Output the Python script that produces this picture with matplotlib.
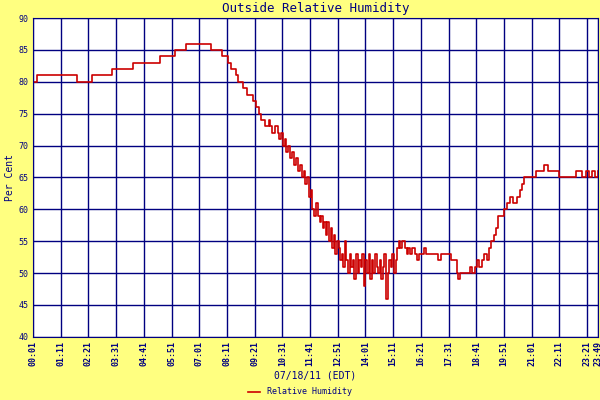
import matplotlib
matplotlib.use("Agg")
import matplotlib.pyplot as plt

# minutes after 00:01 and relative humidity (%)
minutes = [0, 10, 111, 149, 200, 253, 321, 358, 387, 450, 478, 485, 493, 500, 505, 512, 518, 523, 530, 540, 548,
           556, 563, 570, 575, 580, 587, 595, 600, 605, 611, 618, 622, 626, 632, 636, 640, 644, 650, 655, 660,
           665, 670, 675, 680, 684, 688, 692, 697, 702, 706, 710, 715, 720, 724, 728, 732, 736, 740, 744, 748,
           752, 756, 760, 764, 768, 772, 776, 780, 784, 788, 792, 796, 800, 804, 808, 812, 816, 820, 824, 828,
           832, 836, 840, 844, 848, 852, 856, 860, 864, 868, 872, 876, 880, 884, 888, 892, 896, 900, 904, 908,
           912, 916, 920, 924, 928, 932, 936, 940, 944, 948, 952, 958, 964, 970, 976, 982, 988, 994, 1000,
           1008, 1016, 1024, 1032, 1040, 1048, 1056, 1064, 1070, 1074, 1080, 1088, 1096, 1104, 1110, 1116, 1122,
           1128, 1134, 1140, 1146, 1152, 1158, 1164, 1170, 1176, 1182, 1190, 1198, 1206, 1214, 1222, 1230, 1236,
           1241, 1255, 1262, 1270, 1280, 1290, 1300, 1310, 1330, 1350, 1358, 1366, 1372, 1380, 1388, 1396, 1404,
           1412, 1420, 1428]
humidity = [80, 81, 80, 81, 82, 83, 84, 85, 86, 85, 84, 84, 83, 82, 82, 81, 80, 80, 79, 78, 78,
            77, 76, 75, 74, 74, 73, 74, 73, 72, 73, 72, 71, 72, 70, 71, 69, 70, 68, 69, 67,
            68, 66, 67, 65, 66, 64, 65, 62, 63, 60, 59, 61, 59, 58, 59, 57, 58, 56, 58, 55,
            57, 54, 56, 53, 55, 54, 52, 53, 51, 55, 52, 50, 53, 51, 52, 49, 53, 50, 52, 51,
            53, 48, 52, 50, 53, 49, 52, 50, 53, 51, 50, 52, 49, 51, 53, 46, 50, 52, 51, 53,
            50, 52, 54, 55, 54, 55, 55, 54, 53, 54, 53, 54, 53, 52, 53, 53, 54, 53, 53,
            53, 53, 52, 53, 53, 53, 52, 52, 50, 49, 50, 50, 50, 51, 50, 51, 52, 51, 52,
            53, 52, 54, 55, 56, 57, 59, 59, 60, 61, 62, 61, 62, 63, 64, 65, 65,
            65, 66, 66, 67, 66, 66, 65, 65, 65, 65, 66, 66, 65, 66, 65, 66, 65,
            66]

tick_labels = ["00:01", "01:11", "02:21", "03:31", "04:41", "05:51", "07:01", "08:11", "09:21", "10:31",
               "11:41", "12:51", "14:01", "15:11", "16:21", "17:31", "18:41", "19:51", "21:01", "22:11",
               "23:21", "23:49"]
tick_pos = [i * 70 for i in range(21)] + [1428]

n = min(len(minutes), len(humidity))
minutes, humidity = minutes[:n], humidity[:n]

navy = "#000080"
plt.rcParams["font.family"] = "DejaVu Sans Mono"
fig = plt.figure(figsize=(6, 4), dpi=100, facecolor="#ffff80")
ax = fig.add_axes([0.055, 0.158, 0.942, 0.797])
ax.step(minutes, humidity, where="post", color="#cc0000", lw=1.2, label="Relative Humidity")
ax.set_xlim(0, 1428)
ax.set_ylim(40, 90)
ax.set_yticks(range(40, 91, 5))
ax.set_xticks(tick_pos)
ax.set_xticklabels(tick_labels, rotation=90, fontsize=6, color=navy, fontweight="bold")
ax.tick_params(axis="y", labelsize=6, labelcolor=navy, length=0)
ax.tick_params(axis="x", length=0, pad=3)
ax.grid(True, color=navy, lw=1)
for s in ax.spines.values():
    s.set_color(navy)
ax.set_title("Outside Relative Humidity", color=navy, fontsize=9, pad=4)
ax.set_ylabel("Per Cent", color=navy, fontsize=7, labelpad=2)
ax.set_xlabel("07/18/11 (EDT)", color=navy, fontsize=7, labelpad=3)
fig.legend(loc="lower center", bbox_to_anchor=(0.5, -0.01), frameon=False, fontsize=6,
           labelcolor=navy, handlelength=1.5)
fig.savefig("out.png", dpi=100, facecolor=fig.get_facecolor())
